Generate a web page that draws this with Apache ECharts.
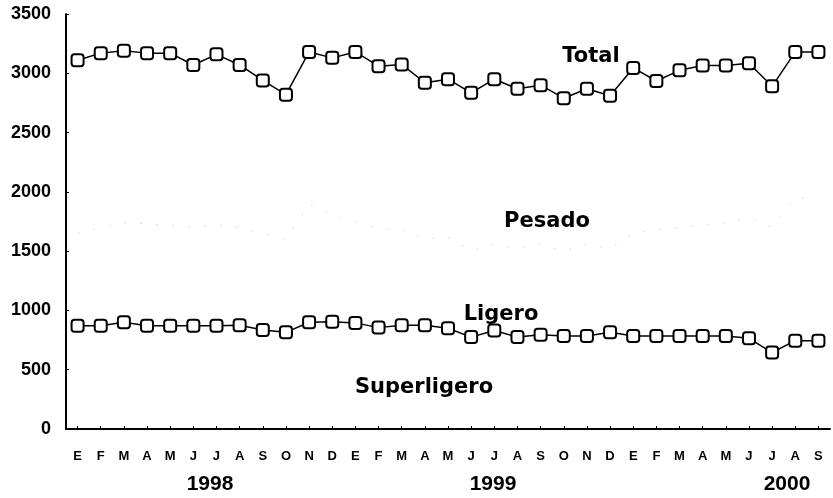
<!DOCTYPE html>
<html>
<head>
<meta charset="utf-8">
<script src="https://cdn.jsdelivr.net/npm/echarts@6/dist/echarts.min.js"></script>
<style>
html,body{margin:0;padding:0;background:#fff;}
#chart{width:833px;height:498px;}
</style>
</head>
<body>
<div id="chart"></div>
<script>
var months = ['E','F','M','A','M','J','J','A','S','O','N','D',
              'E','F','M','A','M','J','J','A','S','O','N','D',
              'E','F','M','A','M','J','J','A','S'];
var years = ['1998','1999','2000'];
var yTicks = [0,500,1000,1500,2000,2500,3000,3500];

var total = [3110,3170,3190,3170,3170,3070,3160,3070,2940,2820,3180,3130,
             3180,3060,3075,2920,2950,2835,2950,2870,2900,2790,2870,2810,
             3045,2935,3025,3065,3065,3085,2890,3180,3180];
var ligero = [870,870,900,870,870,870,870,875,835,815,900,905,
              895,855,875,875,850,775,830,775,795,785,785,815,
              785,785,785,785,785,765,645,745,745];
var pesado = [1650,1700,1740,1730,1720,1700,1720,1700,1650,1600,1900,1800,
              1750,1690,1680,1600,1620,1500,1560,1520,1560,1500,1560,1520,
              1650,1680,1700,1720,1740,1780,1700,1950,1950];

var chart = echarts.init(document.getElementById('chart'), null, {renderer:'canvas'});
var markerStyle = {color:'#fff', borderColor:'#000', borderWidth:2};
var labelFont = {fontFamily:'DejaVu Sans', fontWeight:'bold', fontSize:21, fill:'#000'};
function txt(t, x, y, extra){
  var s = Object.assign({text:t, x:x, y:y, textAlign:'center', textVerticalAlign:'middle'}, labelFont, extra||{});
  return {type:'text', style:s, z:100};
}
chart.setOption({
  animation:false,
  backgroundColor:'#fff',
  grid:{left:66, right:3, top:14, bottom:69},
  xAxis:{
    type:'category', data:months, boundaryGap:true,
    axisLine:{lineStyle:{color:'#000', width:2}},
    axisTick:{show:true, inside:true, length:3, alignWithLabel:true, lineStyle:{color:'#000'}},
    axisLabel:{interval:0, margin:21, color:'#000', fontFamily:'Liberation Sans', fontWeight:'bold', fontSize:13},
    splitLine:{show:false}
  },
  yAxis:{
    type:'value', min:yTicks[0], max:yTicks[yTicks.length-1], interval:500,
    axisLine:{show:true, lineStyle:{color:'#000', width:2}},
    axisTick:{show:true, inside:true, length:3, lineStyle:{color:'#000'}},
    axisLabel:{margin:15, color:'#000', fontFamily:'Liberation Sans', fontWeight:'bold', fontSize:18,
               formatter:function(v){return String(v);}},
    splitLine:{show:false}
  },
  series:[
    {name:'Pesado', type:'line', data:pesado, symbol:'none',
     lineStyle:{color:'#dcdcdc', width:1, type:[2,14]}, z:1},
    {name:'Total', type:'line', data:total, symbol:'roundRect', symbolSize:12,
     itemStyle:markerStyle, lineStyle:{color:'#000', width:1.5}, z:3},
    {name:'Ligero', type:'line', data:ligero, symbol:'roundRect', symbolSize:12,
     itemStyle:markerStyle, lineStyle:{color:'#000', width:1.5}, z:3}
  ],
  graphic:[
    txt('Total', 591, 57),
    txt('Pesado', 547, 222),
    txt('Ligero', 501, 315),
    txt('Superligero', 424, 388),
    txt(years[0], 210, 484, {fontFamily:'Liberation Sans', fontSize:21}),
    txt(years[1], 493, 484, {fontFamily:'Liberation Sans', fontSize:21}),
    txt(years[2], 787, 484, {fontFamily:'Liberation Sans', fontSize:21})
  ]
});
</script>
</body>
</html>
